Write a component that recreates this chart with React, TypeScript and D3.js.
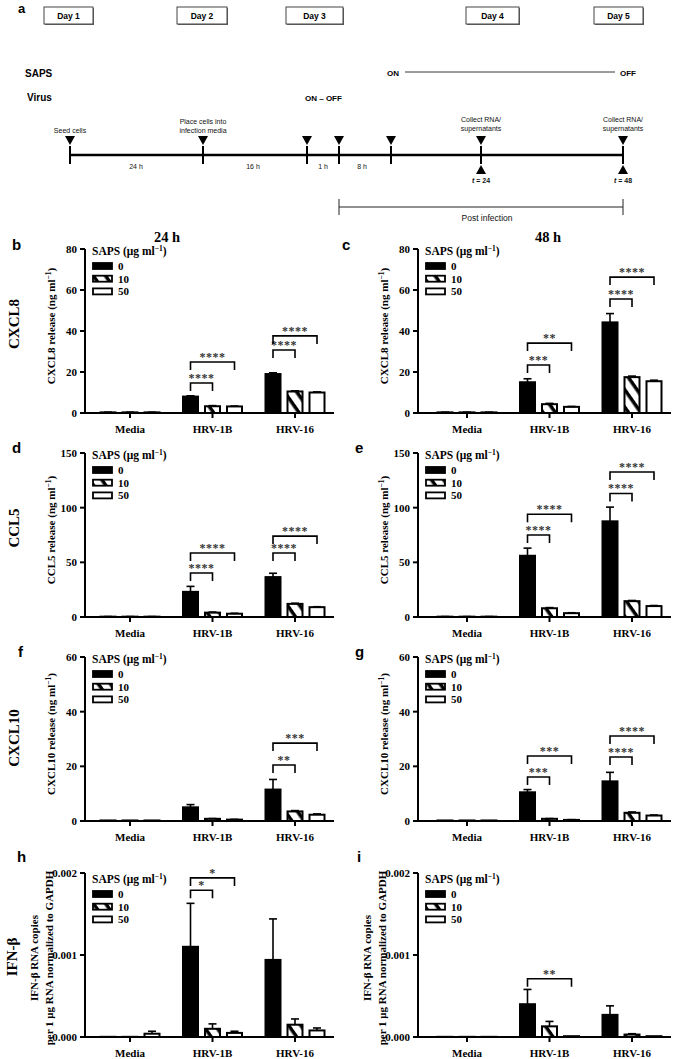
import React from "react";
import * as d3 from "d3";

// ---------- DATA ----------
const groups = ["Media", "HRV-1B", "HRV-16"];
const doses = ["0", "10", "50"];

// values are group-major: Media(0,10,50), HRV-1B(0,10,50), HRV-16(0,10,50)
const cxcl8H24Mean = [0.3, 0.3, 0.3, 8.0, 3.3, 3.2, 19.0, 10.5, 10.0];
const cxcl8H24Err = [0.1, 0.1, 0.1, 0.4, 0.3, 0.2, 0.6, 0.3, 0.3];
const cxcl8H48Mean = [0.3, 0.3, 0.3, 15.0, 4.3, 3.0, 44.2, 17.5, 15.5];
const cxcl8H48Err = [0.1, 0.1, 0.1, 1.7, 0.4, 0.2, 4.3, 0.5, 0.5];
const ccl5H24Mean = [0.3, 0.3, 0.3, 23.0, 4.0, 3.0, 36.5, 12.0, 9.0];
const ccl5H24Err = [0.1, 0.1, 0.1, 5.0, 0.5, 0.4, 3.5, 0.6, 0.4];
const ccl5H48Mean = [0.3, 0.3, 0.3, 56.0, 8.0, 3.5, 87.5, 14.5, 10.0];
const ccl5H48Err = [0.1, 0.1, 0.1, 7.0, 0.6, 0.4, 13.0, 0.6, 0.5];
const cxcl10H24Mean = [0.2, 0.2, 0.2, 5.0, 0.8, 0.5, 11.5, 3.5, 2.3];
const cxcl10H24Err = [0, 0, 0, 1.0, 0.1, 0.1, 3.7, 0.3, 0.3];
const cxcl10H48Mean = [0.2, 0.2, 0.2, 10.5, 0.8, 0.4, 14.5, 3.0, 2.0];
const cxcl10H48Err = [0, 0, 0, 1.0, 0.1, 0.1, 3.3, 0.3, 0.2];
const ifnbH24Mean = [0.000002, 0.000002, 0.00004, 0.0011, 0.0001, 0.00005, 0.00094, 0.00015, 0.00008];
const ifnbH24Err = [0, 0, 0.00003, 0.00053, 0.00006, 0.00002, 0.0005, 0.00007, 0.00003];
const ifnbH48Mean = [0.000002, 0.000002, 0.000002, 0.0004, 0.00013, 0.00001, 0.00027, 0.00003, 0.00001];
const ifnbH48Err = [0, 0, 0, 0.00018, 0.00006, 0, 0.00011, 0.00001, 0];

const cxcl8Ticks = [0, 20, 40, 60, 80];
const ccl5Ticks = [0, 50, 100, 150];
const cxcl10Ticks = [0, 20, 40, 60];
const ifnbTicks = [0, 0.001, 0.002];

// significance brackets: group, compared dose index, bracket height (data units), label
const cxcl8H24Sig = [
  { g: "HRV-1B", to: 1, v: 14.6, s: "****" },
  { g: "HRV-1B", to: 2, v: 24.9, s: "****" },
  { g: "HRV-16", to: 1, v: 30.7, s: "****" },
  { g: "HRV-16", to: 2, v: 37.6, s: "****" },
];
const cxcl8H48Sig = [
  { g: "HRV-1B", to: 1, v: 23.4, s: "***" },
  { g: "HRV-1B", to: 2, v: 34.1, s: "**" },
  { g: "HRV-16", to: 1, v: 55.6, s: "****" },
  { g: "HRV-16", to: 2, v: 66.3, s: "****" },
];
const ccl5H24Sig = [
  { g: "HRV-1B", to: 1, v: 40.2, s: "****" },
  { g: "HRV-1B", to: 2, v: 58.5, s: "****" },
  { g: "HRV-16", to: 1, v: 58.5, s: "****" },
  { g: "HRV-16", to: 2, v: 74.0, s: "****" },
];
const ccl5H48Sig = [
  { g: "HRV-1B", to: 1, v: 75, s: "****" },
  { g: "HRV-1B", to: 2, v: 94, s: "****" },
  { g: "HRV-16", to: 1, v: 113, s: "****" },
  { g: "HRV-16", to: 2, v: 132.6, s: "****" },
];
const cxcl10H24Sig = [
  { g: "HRV-16", to: 1, v: 20.5, s: "**" },
  { g: "HRV-16", to: 2, v: 28.5, s: "***" },
];
const cxcl10H48Sig = [
  { g: "HRV-1B", to: 1, v: 16.1, s: "***" },
  { g: "HRV-1B", to: 2, v: 23.8, s: "***" },
  { g: "HRV-16", to: 1, v: 23.4, s: "****" },
  { g: "HRV-16", to: 2, v: 31.1, s: "****" },
];
const ifnbH24Sig = [
  { g: "HRV-1B", to: 1, v: 0.00179, s: "*" },
  { g: "HRV-1B", to: 2, v: 0.00194, s: "*" },
];
const ifnbH48Sig = [{ g: "HRV-1B", to: 2, v: 0.00071, s: "**" }];

// ---------- STYLE / LAYOUT ----------
const SERIF = "'Liberation Serif', 'Times New Roman', serif";
const SANS = "'Liberation Sans', Arial, Helvetica, sans-serif";
const W = 675;
const H = 1059;

const cols = [
  { axisX: 85, range: [88.75, 336.25], axisEnd: 334, titleX: 55, t1: 38, t2: 53, letterX: 12 },
  { axisX: 418, range: [425.75, 673.25], axisEnd: 671, titleX: 388, t1: 371, t2: 386, letterX: 355 },
];
const rows = [
  { yTop: 249, yBot: 413, legendDy: 0, letterY: 250 },
  { yTop: 453, yBot: 617, legendDy: 0, letterY: 453 },
  { yTop: 657, yBot: 821, legendDy: 0, letterY: 657 },
  { yTop: 873, yBot: 1037, legendDy: 4, letterY: 862 },
];

const doseFill = (d: string) => (d === "0" ? "#000" : d === "10" ? "url(#hatch)" : "#fff");

function Sup({ children }: any) {
  return (
    <>
      <tspan dy={-4} fontSize={7.5}>{children}</tspan>
      <tspan dy={4}>)</tspan>
    </>
  );
}

function Panel({ col, row, ticks, fmt, means, errs, sigs, letter, letterX, title }: any) {
  const c = cols[col];
  const r = rows[row];
  const y = d3.scaleLinear().domain([0, ticks[ticks.length - 1]]).range([r.yBot, r.yTop]);
  const x0 = d3.scaleBand<string>().domain(groups).range(c.range as [number, number]);
  const x1 = d3.scaleBand<string>().domain(doses).range([-29.5, 29.5]).paddingInner(7 / 22);
  const bw = x1.bandwidth();
  const gc = (g: string) => (x0(g) as number) + x0.bandwidth() / 2;
  const bc = (g: string, d: string) => gc(g) + (x1(d) as number) + bw / 2;
  const mid = (r.yTop + r.yBot) / 2;
  const ly = r.yTop + r.legendDy;

  const bars: any[] = [];
  groups.forEach((g, gi) =>
    doses.forEach((d, di) => {
      bars.push({ g, d, m: means[gi * 3 + di], e: errs[gi * 3 + di] });
    })
  );

  return (
    <g>
      <text x={letterX ?? c.letterX} y={r.letterY} fontFamily={SANS} fontWeight="bold" fontSize={15}>
        {letter}
      </text>
      {/* y-axis title */}
      {title.length === 1 ? (
        <text
          transform={`translate(${c.titleX},${mid - 5}) rotate(-90)`}
          textAnchor="middle"
          fontFamily={SERIF}
          fontWeight="bold"
          fontSize={11}
        >
          {title[0]}
          <Sup>−1</Sup>
        </text>
      ) : (
        <g fontFamily={SERIF} fontWeight="bold" fontSize={11} textAnchor="middle">
          <text transform={`translate(${c.t1},${mid + 3}) rotate(-90)`}>{title[0]}</text>
          <text transform={`translate(${c.t2},${mid + 3}) rotate(-90)`}>{title[1]}</text>
        </g>
      )}
      {/* bars */}
      {bars.map((b, i) => {
        const x = gc(b.g) + (x1(b.d) as number);
        const top = y(b.m);
        return (
          <rect
            key={"b" + i}
            x={x}
            y={top}
            width={bw}
            height={Math.max(0.01, y(0) - top)}
            fill={doseFill(b.d)}
            stroke="#000"
            strokeWidth={2}
          />
        );
      })}
      {/* error bars */}
      {bars
        .filter((b) => b.e > 0)
        .map((b, i) => {
          const cx = bc(b.g, b.d);
          const y1 = y(b.m);
          const y2 = y(b.m + b.e);
          return (
            <g key={"e" + i} stroke="#000" strokeWidth={1.6}>
              <line x1={cx} x2={cx} y1={y1} y2={y2} />
              <line x1={cx - 4} x2={cx + 4} y1={y2} y2={y2} />
            </g>
          );
        })}
      {/* significance */}
      {sigs.map((s: any, i: number) => {
        const xa = bc(s.g, "0");
        const xb = bc(s.g, doses[s.to]);
        const yy = y(s.v);
        return (
          <g key={"s" + i}>
            <path
              d={`M${xa},${yy + 8}V${yy}H${xb}V${yy + 8}`}
              fill="none"
              stroke="#000"
              strokeWidth={1.6}
            />
            <text
              x={(xa + xb) / 2}
              y={yy - 1}
              textAnchor="middle"
              fontFamily={SERIF}
              fontWeight="bold"
              fontSize={12}
              fill="#333"
              letterSpacing={0.5}
            >
              {s.s}
            </text>
          </g>
        );
      })}
      {/* axes */}
      <line x1={c.axisX} x2={c.axisX} y1={r.yTop} y2={r.yBot} stroke="#000" strokeWidth={2} />
      <line x1={c.axisX - 1} x2={c.axisEnd} y1={r.yBot} y2={r.yBot} stroke="#000" strokeWidth={2} />
      {ticks.map((t: number) => (
        <g key={"t" + t}>
          <line x1={c.axisX - 5} x2={c.axisX} y1={y(t)} y2={y(t)} stroke="#000" strokeWidth={2} />
          <text
            x={c.axisX - 8}
            y={y(t)}
            dy="0.35em"
            textAnchor="end"
            fontFamily={SERIF}
            fontWeight="bold"
            fontSize={11}
          >
            {fmt(t)}
          </text>
        </g>
      ))}
      {groups.map((g) => (
        <g key={g}>
          <line x1={gc(g)} x2={gc(g)} y1={r.yBot} y2={r.yBot + 5} stroke="#000" strokeWidth={2} />
          <text x={gc(g)} y={r.yBot + 20} textAnchor="middle" fontFamily={SERIF} fontWeight="bold" fontSize={11}>
            {g}
          </text>
        </g>
      ))}
      {/* legend */}
      <text x={c.axisX + 7} y={ly + 6} fontFamily={SERIF} fontWeight="bold" fontSize={11.5}>
        SAPS (μg ml<Sup>−1</Sup>
      </text>
      {doses.map((d, i) => {
        const cy = ly + 17 + i * 12.7;
        return (
          <g key={"l" + d}>
            <rect x={c.axisX + 8} y={cy - 3} width={19} height={6} fill={doseFill(d)} stroke="#000" strokeWidth={1.8} />
            <text x={c.axisX + 33} y={cy} dy="0.35em" fontFamily={SERIF} fontWeight="bold" fontSize={11}>
              {d}
            </text>
          </g>
        );
      })}
    </g>
  );
}

function Timeline() {
  const days = [
    { t: "Day 1", a: 44, b: 93 },
    { t: "Day 2", a: 177, b: 227 },
    { t: "Day 3", a: 286, b: 343 },
    { t: "Day 4", a: 466, b: 519 },
    { t: "Day 5", a: 594, b: 643 },
  ];
  const ticksX = [70, 203, 307, 339, 391, 481, 623];
  const upX = [481, 623];
  const spans = [
    { t: "24 h", x: 136 },
    { t: "16 h", x: 253 },
    { t: "1 h", x: 323 },
    { t: "8 h", x: 362 },
  ];
  return (
    <g>
      <text x={18} y={13} fontFamily={SANS} fontWeight="bold" fontSize={13}>
        a
      </text>
      {days.map((d) => (
        <g key={d.t}>
          <rect x={d.a + 1} y={8} width={d.b - d.a} height={17} fill="#666" />
          <rect x={d.a} y={7} width={d.b - d.a} height={17} fill="#fff" stroke="#444" strokeWidth={1} />
          <text x={(d.a + d.b) / 2} y={18.5} textAnchor="middle" fontFamily={SANS} fontWeight="bold" fontSize={8.5}>
            {d.t}
          </text>
        </g>
      ))}
      <g fontFamily={SANS} fontWeight="bold">
        <text x={25} y={77} fontSize={10}>SAPS</text>
        <text x={27} y={101} fontSize={10}>Virus</text>
        <text x={387} y={76} fontSize={8}>ON</text>
        <text x={620} y={76} fontSize={8}>OFF</text>
        <text x={305} y={101} fontSize={8}>ON – OFF</text>
      </g>
      <line x1={405} x2={615} y1={72} y2={72} stroke="#222" strokeWidth={0.9} />
      <line x1={70} x2={623} y1={155} y2={155} stroke="#000" strokeWidth={2.5} />
      {ticksX.map((x) => (
        <g key={"tk" + x}>
          <line x1={x} x2={x} y1={146} y2={164} stroke="#000" strokeWidth={2} />
          <path d={`M${x - 5},136L${x + 5},136L${x},145Z`} fill="#000" />
        </g>
      ))}
      {upX.map((x) => (
        <path key={"up" + x} d={`M${x},165L${x + 5},174L${x - 5},174Z`} fill="#000" />
      ))}
      <g fontFamily={SANS} fontSize={7} textAnchor="middle" fill="#111">
        <text x={70} y={133}>Seed cells</text>
        <text x={203} y={124}>Place cells into</text>
        <text x={203} y={133}>infection media</text>
        {spans.map((s) => (
          <text key={s.t} x={s.x} y={169}>{s.t}</text>
        ))}
        {upX.map((x) => (
          <g key={"c" + x}>
            <text x={x} y={122}>Collect RNA/</text>
            <text x={x} y={131}>supernatants</text>
          </g>
        ))}
        <text x={481} y={183} fontWeight="bold">
          <tspan fontStyle="italic">t</tspan> = 24
        </text>
        <text x={623} y={183} fontWeight="bold">
          <tspan fontStyle="italic">t</tspan> = 48
        </text>
        <text x={487} y={221} fontSize={8.5}>Post infection</text>
      </g>
      <path d="M339,199V215M339,207H623M623,199V215" fill="none" stroke="#222" strokeWidth={1} />
    </g>
  );
}

export default function App() {
  const fmtInt = (t: number) => d3.format("d")(t);
  const fmt3 = (t: number) => d3.format(".3f")(t);
  return (
    <div style={{ position: "absolute", left: 0, top: 0, background: "#fff" }}>
      <svg width={W} height={H} viewBox={`0 0 ${W} ${H}`} style={{ display: "block", background: "#fff" }}>
        <defs>
          <pattern id="hatch" patternUnits="userSpaceOnUse" width={10} height={10} patternTransform="rotate(55)">
            <rect width={10} height={10} fill="#fff" />
            <rect width={10} height={3.5} fill="#000" />
          </pattern>
        </defs>
        <Timeline />
        <g fontFamily={SERIF} fontWeight="bold" fontSize={14.5} textAnchor="middle">
          <text x={167} y={242}>24 h</text>
          <text x={548} y={242}>48 h</text>
        </g>
        {/* row labels */}
        <g fontFamily={SERIF} fontWeight="bold" fontSize={15} textAnchor="middle">
          <text transform={`translate(19,${(rows[0].yTop + rows[0].yBot) / 2 - 7}) rotate(-90)`}>CXCL8</text>
          <text transform={`translate(19,${(rows[1].yTop + rows[1].yBot) / 2 - 7}) rotate(-90)`}>CCL5</text>
          <text transform={`translate(19,${(rows[2].yTop + rows[2].yBot) / 2 - 1}) rotate(-90)`}>CXCL10</text>
          <text transform={`translate(17,${(rows[3].yTop + rows[3].yBot) / 2 + 2}) rotate(-90)`}>IFN-β</text>
        </g>
        <Panel col={0} row={0} letter="b" ticks={cxcl8Ticks} fmt={fmtInt} means={cxcl8H24Mean} errs={cxcl8H24Err} sigs={cxcl8H24Sig} title={["CXCL8 release (ng ml"]} />
        <Panel col={1} row={0} letter="c" letterX={342} ticks={cxcl8Ticks} fmt={fmtInt} means={cxcl8H48Mean} errs={cxcl8H48Err} sigs={cxcl8H48Sig} title={["CXCL8 release (ng ml"]} />
        <Panel col={0} row={1} letter="d" ticks={ccl5Ticks} fmt={fmtInt} means={ccl5H24Mean} errs={ccl5H24Err} sigs={ccl5H24Sig} title={["CCL5 release (ng ml"]} />
        <Panel col={1} row={1} letter="e" ticks={ccl5Ticks} fmt={fmtInt} means={ccl5H48Mean} errs={ccl5H48Err} sigs={ccl5H48Sig} title={["CCL5 release (ng ml"]} />
        <Panel col={0} row={2} letter="f" letterX={18} ticks={cxcl10Ticks} fmt={fmtInt} means={cxcl10H24Mean} errs={cxcl10H24Err} sigs={cxcl10H24Sig} title={["CXCL10 release (ng ml"]} />
        <Panel col={1} row={2} letter="g" ticks={cxcl10Ticks} fmt={fmtInt} means={cxcl10H48Mean} errs={cxcl10H48Err} sigs={cxcl10H48Sig} title={["CXCL10 release (ng ml"]} />
        <Panel col={0} row={3} letter="h" letterX={17} ticks={ifnbTicks} fmt={fmt3} means={ifnbH24Mean} errs={ifnbH24Err} sigs={ifnbH24Sig} title={["IFN-β RNA copies", "per 1 μg RNA normalized to GAPDH"]} />
        <Panel col={1} row={3} letter="i" letterX={357} ticks={ifnbTicks} fmt={fmt3} means={ifnbH48Mean} errs={ifnbH48Err} sigs={ifnbH48Sig} title={["IFN-β RNA copies", "per 1 μg RNA normalized to GAPDH"]} />
      </svg>
    </div>
  );
}
